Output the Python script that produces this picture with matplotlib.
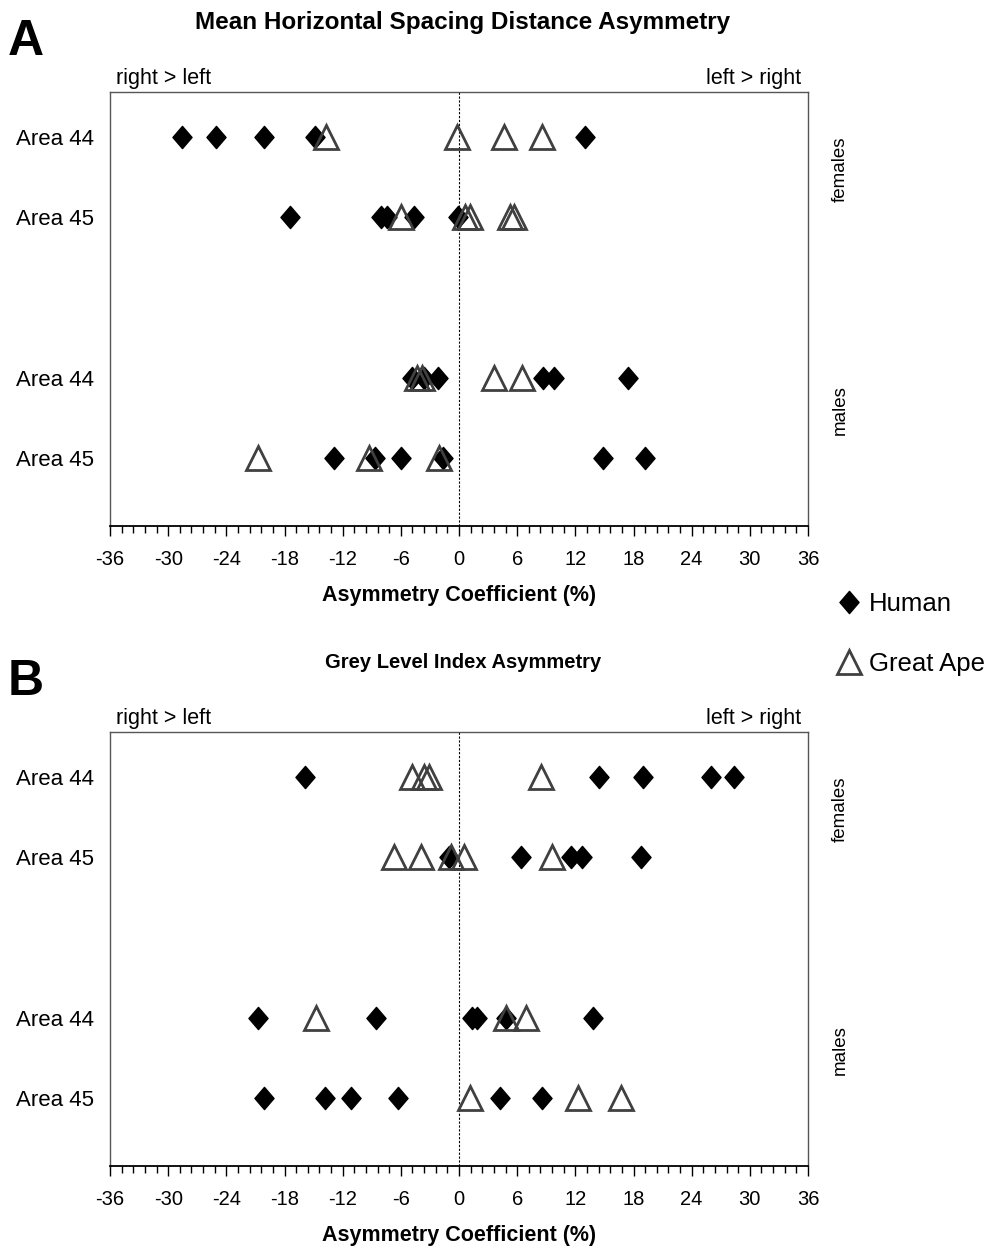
import matplotlib
matplotlib.use('Agg')
import matplotlib.pyplot as plt
from matplotlib.lines import Line2D
from matplotlib.path import Path
from matplotlib.ticker import MultipleLocator
from matplotlib.transforms import blended_transform_factory

plt.rcParams['font.family'] = ['Liberation Sans', 'DejaVu Sans']
plt.rcParams['axes.unicode_minus'] = False

# rows (top to bottom): females Area 44, females Area 45, males Area 44, males Area 45
row_labels = ['Area 44', 'Area 45', 'Area 44', 'Area 45']
row_pos = [4, 3, 1, 0]

# Panel A: Mean Horizontal Spacing Distance Asymmetry
a_human = [
    [-28.6, -25.1, -20.1, -14.9, 13.0],
    [-17.4, -8.0, -7.4, -4.6, -0.1],
    [-4.8, -3.6, -2.2, 8.7, 9.8, 17.4],
    [-12.9, -8.7, -6.0, -1.7, 14.9, 19.2],
]
a_ape = [
    [-13.7, -0.2, 4.6, 8.6],
    [-6.0, 0.6, 1.1, 5.3, 5.7],
    [-4.3, -3.8, 3.6, 6.5],
    [-20.7, -9.3, -2.1],
]

# Panel B: Grey Level Index Asymmetry
b_human = [
    [-15.9, 14.4, 19.0, 26.0, 28.4],
    [-1.0, 6.4, 11.6, 12.7, 18.8],
    [-20.7, -8.6, 1.3, 1.9, 4.8, 13.8],
    [-20.1, -13.8, -11.1, -6.3, 4.2, 8.6],
]
b_ape = [
    [-4.8, -3.6, -3.1, 8.5],
    [-6.7, -3.9, -0.8, 0.5, 9.6],
    [-14.8, 4.8, 6.9],
    [1.1, 12.3, 16.7],
]

titles = ['Mean Horizontal Spacing Distance Asymmetry', 'Grey Level Index Asymmetry']
title_sizes = [17.5, 14.5]
panel_letters = ['A', 'B']

# slightly tall diamond, like the Excel marker
diamond = Path([(0, 1), (0.86, 0), (0, -1), (-0.86, 0), (0, 1)],
               [Path.MOVETO, Path.LINETO, Path.LINETO, Path.LINETO, Path.CLOSEPOLY])

W, H = 994, 1252
fig = plt.figure(figsize=(W / 100, H / 100), dpi=100)

ax_tops = [92, 732]
ax_h = 434

for k, (human, ape) in enumerate([(a_human, a_ape), (b_human, b_ape)]):
    top = ax_tops[k]
    ax = fig.add_axes([110 / W, 1 - (top + ax_h) / H, 698 / W, ax_h / H])

    ax.axvline(0, color='black', lw=0.8, ls=(0, (2, 1.5)), zorder=1)
    for i, y in enumerate(row_pos):
        ax.plot(human[i], [y] * len(human[i]), ls='none', marker=diamond,
                ms=16, color='black', zorder=3)
        ax.plot(ape[i], [y] * len(ape[i]), ls='none', marker='^', ms=17,
                mfc='none', mec='#404040', mew=2, zorder=4)

    ax.set_xlim(-36, 36)
    ax.set_ylim(-0.85, 4.5625)
    ax.xaxis.set_major_locator(MultipleLocator(6))
    ax.xaxis.set_minor_locator(MultipleLocator(1.2))
    ax.tick_params(axis='x', which='major', length=7, width=1, labelsize=14.5, pad=10)
    ax.tick_params(axis='x', which='minor', length=5, width=1)
    ax.set_yticks([])

    # row labels, left aligned near the figure edge
    trans = blended_transform_factory(fig.transFigure, ax.transData)
    for lab, y in zip(row_labels, row_pos):
        ax.text(16 / W, y, lab, transform=trans, fontsize=16, ha='left',
                va='center_baseline')

    for s in ax.spines.values():
        s.set_color('#555555')
        s.set_linewidth(1)
    ax.spines['bottom'].set_color('black')
    ax.spines['bottom'].set_linewidth(1.3)

    ax.set_xlabel('Asymmetry Coefficient (%)', fontsize=15.5, fontweight='bold', labelpad=12)

    ax.text(0.009, 1.008, 'right > left', transform=ax.transAxes, fontsize=15.5,
            ha='left', va='bottom')
    ax.text(0.99, 1.008, 'left > right', transform=ax.transAxes, fontsize=15.5,
            ha='right', va='bottom')

    ax.text(1.046, 3.6, 'females', transform=ax.get_yaxis_transform(), rotation=90,
            fontsize=13.5, ha='center', va='center')
    ax.text(1.046, 0.6, 'males', transform=ax.get_yaxis_transform(), rotation=90,
            fontsize=13.5, ha='center', va='center')

    fig.text(463 / W, 1 - (top - 70) / H, titles[k], fontsize=title_sizes[k],
             fontweight='bold', ha='center', va='center')
    fig.text(8 / W, 1 - (top - 50) / H, panel_letters[k], fontsize=36, fontweight='bold',
             ha='left', va='center')

handles = [
    Line2D([], [], ls='none', marker=diamond, ms=16, color='black', label='Human'),
    Line2D([], [], ls='none', marker='^', ms=17, mfc='none', mec='#404040', mew=2,
           label='Great Ape'),
]
fig.legend(handles=handles, loc='upper left', bbox_to_anchor=(823 / W, 1 - 579 / H),
           frameon=False, fontsize=18.5, labelspacing=1.4, handlelength=1.0,
           handletextpad=0.3, borderpad=0)

fig.savefig('out.png', dpi=100)
